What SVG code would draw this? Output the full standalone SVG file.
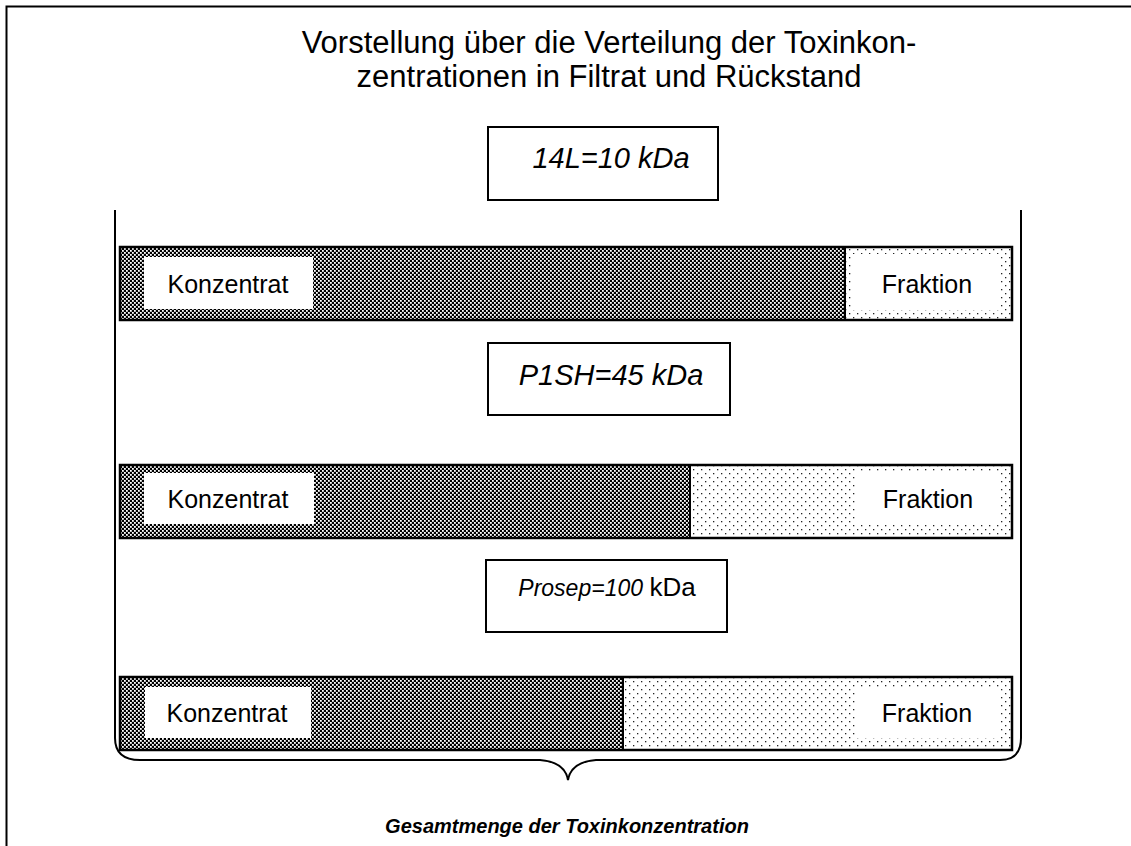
<svg xmlns="http://www.w3.org/2000/svg" width="1131" height="846" viewBox="0 0 1131 846">
<style>
.t{font-family:"Liberation Sans",Arial,sans-serif;fill:#000}
.box{fill:#fff;stroke:#000;stroke-width:2}
.bar{fill:none;stroke:#000;stroke-width:2.5}
.lbl{fill:#fff}
.ln{fill:none;stroke:#000;stroke-width:2}
.k{font-size:25px}
</style>
<defs>
<pattern id="dark" width="4" height="4" patternUnits="userSpaceOnUse">
<rect width="4" height="4" fill="#000"/>
<rect x="0" y="0" width="1.8" height="1.8" fill="#fff"/>
<rect x="2" y="2" width="1.8" height="1.8" fill="#fff"/>
</pattern>
<pattern id="light" width="8" height="8" patternUnits="userSpaceOnUse">
<rect width="8" height="8" fill="#fff"/>
<rect x="1" y="1" width="1.3" height="1.3" fill="#222"/>
<rect x="5" y="5" width="1.3" height="1.3" fill="#222"/>
</pattern>
</defs>
<rect width="1131" height="846" fill="#fff"/>
<rect x="6.5" y="6.5" width="1140" height="860" fill="none" stroke="#000" stroke-width="2"/>
<g id="title">
<text class="t" x="609" y="53" font-size="31" text-anchor="middle">Vorstellung über die Verteilung der Toxinkon-</text>
<text class="t" x="609" y="87" font-size="31" text-anchor="middle">zentrationen in Filtrat und Rückstand</text>
</g>
<g id="connectors">
<path class="ln" d="M115,210 V738 Q115,760 140,760 H540 Q565,762 568,780 Q571,762 596,760 H1000 Q1021,760 1021,738 V210"/>
</g>
<g id="box1">
<rect class="box" x="488" y="127" width="230" height="73"/>
<text class="t" x="611" y="168" font-size="29" font-style="italic" text-anchor="middle">14L=10 kDa</text>
</g>
<g id="bar1">
<rect x="120" y="247" width="725" height="73" fill="url(#dark)"/>
<rect x="845" y="247" width="167" height="73" fill="url(#light)"/>
<rect class="bar" x="120" y="247" width="892" height="73"/>
<line class="ln" x1="845" y1="247" x2="845" y2="320"/>
<rect class="lbl" x="144" y="257" width="169" height="52"/>
<text class="t k" x="228" y="293" text-anchor="middle">Konzentrat</text>
<rect class="lbl" x="852" y="254" width="147" height="56"/>
<text class="t k" x="927" y="293" text-anchor="middle">Fraktion</text>
</g>
<g id="box2">
<rect class="box" x="488" y="343" width="242" height="72"/>
<text class="t" x="611" y="385" font-size="29" font-style="italic" text-anchor="middle">P1SH=45 kDa</text>
</g>
<g id="bar2">
<rect x="120" y="465" width="570" height="73" fill="url(#dark)"/>
<rect x="690" y="465" width="322" height="73" fill="url(#light)"/>
<rect class="bar" x="120" y="465" width="892" height="73"/>
<line class="ln" x1="690" y1="465" x2="690" y2="538"/>
<rect class="lbl" x="144" y="473" width="170" height="51"/>
<text class="t k" x="228" y="508" text-anchor="middle">Konzentrat</text>
<rect class="lbl" x="857" y="473" width="142" height="52"/>
<text class="t k" x="928" y="508" text-anchor="middle">Fraktion</text>
</g>
<g id="box3">
<rect class="box" x="486" y="560" width="241" height="72"/>
<text class="t" x="607" y="596" text-anchor="middle"><tspan font-size="23" font-style="italic">Prosep=100 </tspan><tspan font-size="26">kDa</tspan></text>
</g>
<g id="bar3">
<rect x="120" y="677" width="503" height="73" fill="url(#dark)"/>
<rect x="623" y="677" width="389" height="73" fill="url(#light)"/>
<rect class="bar" x="120" y="677" width="892" height="73"/>
<line class="ln" x1="623" y1="677" x2="623" y2="750"/>
<rect class="lbl" x="145" y="687" width="166" height="51"/>
<text class="t k" x="227" y="722" text-anchor="middle">Konzentrat</text>
<rect class="lbl" x="857" y="687" width="142" height="51"/>
<text class="t k" x="927" y="722" text-anchor="middle">Fraktion</text>
</g>
<g id="footer">
<text class="t" x="567" y="833" font-size="20" font-weight="bold" font-style="italic" text-anchor="middle">Gesamtmenge der Toxinkonzentration</text>
</g>
</svg>
